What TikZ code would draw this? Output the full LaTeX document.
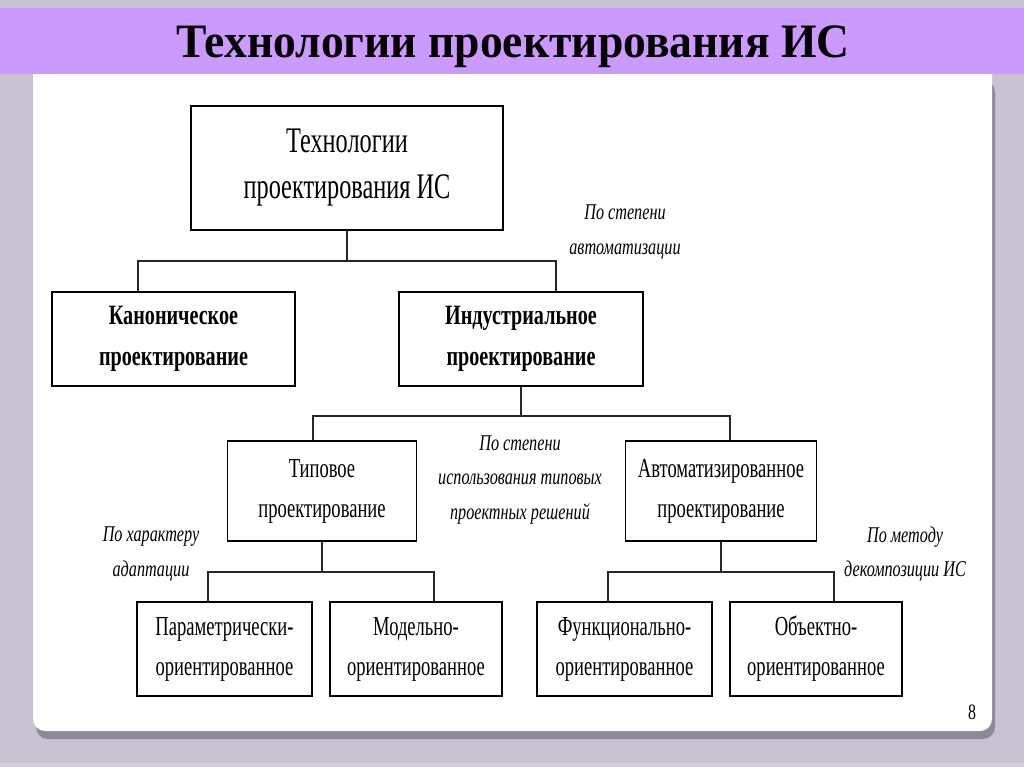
\documentclass[tikz,border=0pt]{standalone}
\usepackage{fontspec}
\setmainfont{Liberation Serif}[FakeStretch=0.72]
\newfontfamily\regfont{Liberation Serif}[FakeStretch=0.675]
\newfontfamily\titlefont{Liberation Serif}[FakeStretch=0.95]
\definecolor{bggray}{HTML}{C8C2D2}
\definecolor{band}{HTML}{CA9BFC}
\definecolor{shadowgray}{HTML}{8E8898}
\begin{document}
\begin{tikzpicture}[x=1pt,y=-1pt,
  box/.style={draw=black,line width=1.4pt,fill=white,inner sep=0pt,align=center,anchor=center},
  bigtxt/.style={font=\regfont\fontsize{36}{46}\selectfont},
  boldtxt/.style={font=\bfseries\fontsize{28}{41}\selectfont},
  regtxt/.style={font=\regfont\fontsize{27.5}{40}\selectfont},
  note/.style={font=\itshape\fontsize{22.5}{34.5}\selectfont,align=center,inner sep=0pt},
  conn/.style={draw=black!85,line width=1.3pt}]
\useasboundingbox (0,0) rectangle (1024,767);
% background
\fill[bggray] (0,0) rectangle (1024,767);
\fill[bggray!80!white] (0,763) rectangle (1024,767);
% panel shadow and panel
\fill[shadowgray,rounded corners=12pt] (36,80) rectangle (995,739);
\fill[white,rounded corners=12pt] (33,60) rectangle (992,731);
% band
\fill[band] (0,8) rectangle (1024,74);
\node[font=\titlefont\bfseries\fontsize{48}{54}\selectfont,text=black!95!violet,inner sep=0pt] (title) at (513,47) {Технологии проектирования ИС};
% boxes
\node[box,bigtxt,minimum width=312,minimum height=124] (top) at (347,168) {\raisebox{-3pt}{Технологии}\\\raisebox{-3pt}{проектирования ИС}};
\node[box,boldtxt,minimum width=243,minimum height=94] (kan) at (173.5,339) {Каноническое\\проектирование};
\node[box,boldtxt,minimum width=244,minimum height=94] (ind) at (521,339) {Индустриальное\\проектирование};
\node[box,regtxt,minimum width=189,minimum height=100] (typ) at (322,491) {Типовое\\проектирование};
\node[box,regtxt,minimum width=191,minimum height=100] (avt) at (721,491) {Автоматизированное\\проектирование};
\node[box,regtxt,minimum width=175,minimum height=94] (par) at (224.5,649) {Параметрически-\\ориентированное};
\node[box,regtxt,minimum width=172,minimum height=94] (mod) at (416,649) {Модельно-\\ориентированное};
\node[box,regtxt,minimum width=175,minimum height=94] (fun) at (624.5,649) {Функционально-\\ориентированное};
\node[box,regtxt,minimum width=172,minimum height=94] (obj) at (816,649) {Объектно-\\ориентированное};
% notes
\node[note] (n1) at (625,232) {По степени\\автоматизации};
\node[note] (n2) at (520,480) {По степени\\использования типовых\\проектных решений};
\node[note] (n3) at (151,554) {По характеру\\адаптации};
\node[note] (n4) at (905,554) {По методу\\декомпозиции ИС};
\node[font=\fontsize{22}{26}\selectfont,inner sep=0pt] (pg) at (972,712) {8};
% bus coordinates
\coordinate (b1L) at (138,261);
\coordinate (b1R) at (556,261);
\coordinate (b2L) at (313,416);
\coordinate (b2R) at (730,416);
\coordinate (b3L) at (208,572);
\coordinate (b3R) at (434,572);
\coordinate (b4L) at (608,572);
\coordinate (b4R) at (834,572);
% connectors
\draw[conn] (top.south) -- (top.south |- b1L);
\draw[conn] (b1L |- kan.north) -- (b1L) -- (b1R) -- (b1R |- ind.north);
\draw[conn] (ind.south) -- (ind.south |- b2L);
\draw[conn] (b2L |- typ.north) -- (b2L) -- (b2R) -- (b2R |- avt.north);
\draw[conn] (typ.south) -- (typ.south |- b3L);
\draw[conn] (b3L |- par.north) -- (b3L) -- (b3R) -- (b3R |- mod.north);
\draw[conn] (avt.south) -- (avt.south |- b4L);
\draw[conn] (b4L |- fun.north) -- (b4L) -- (b4R) -- (b4R |- obj.north);
\end{tikzpicture}
\end{document}
